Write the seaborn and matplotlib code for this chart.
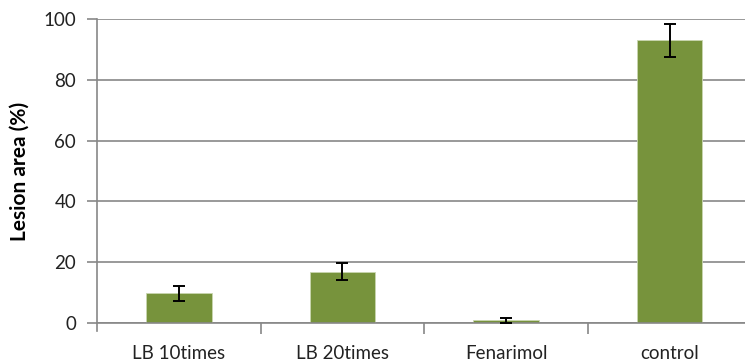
import matplotlib
matplotlib.use("Agg")
import matplotlib.pyplot as plt
import seaborn as sns
import pandas as pd
import numpy as np

categories = ["LB 10times", "LB 20times", "Fenarimol", "control"]
lesion_area = [9.8, 16.8, 0.9, 93.0]
lesion_err = [2.5, 2.8, 0.8, 5.5]
y_ticks = [0, 20, 40, 60, 80, 100]

sns.set_theme(style="white")
plt.rcParams["font.family"] = ["Lato", "DejaVu Sans"]

df = pd.DataFrame({"group": categories, "area": lesion_area})

fig = plt.figure(figsize=(7.45, 3.62), dpi=100)
ax = fig.add_axes([97 / 745, 1 - 323 / 362, 1 - 97 / 745, (323 - 19) / 362])

grid_col = "#878787"
bar_col = "#77933C"

sns.barplot(data=df, x="group", y="area", color=bar_col, width=0.4,
            edgecolor="#C9D6B0", linewidth=0.6, saturation=1, errorbar=None, ax=ax)
ax.errorbar(np.arange(len(categories)), lesion_area, yerr=lesion_err,
            fmt="none", ecolor="black", elinewidth=1.4, capsize=4.5, capthick=1.4, zorder=5)

ax.set_ylim(0, 100)
ax.set_xlim(-0.5, 3.46)
ax.set_yticks(y_ticks)
ax.yaxis.grid(True, color=grid_col, linewidth=1.2)
ax.set_axisbelow(True)

for side in ["top", "right"]:
    ax.spines[side].set_visible(False)
ax.spines["left"].set_color(grid_col)
ax.spines["left"].set_linewidth(1.2)
ax.spines["left"].set_bounds(-2.7, 100)
ax.spines["bottom"].set_color(grid_col)
ax.spines["bottom"].set_linewidth(1.2)

ax.tick_params(axis="y", which="major", length=7, width=1.2, color=grid_col,
               direction="out", left=True, labelsize=13.5, pad=8, labelcolor="#222222")
ax.tick_params(axis="x", which="major", length=0, labelsize=13.5, pad=16, labelcolor="#222222")
ax.set_xticks([0.5, 1.5, 2.5], minor=True)
ax.tick_params(axis="x", which="minor", length=8, width=1.2, color=grid_col,
               direction="out", bottom=True)

ax.set_xlabel("")
ax.set_ylabel("Lesion area (%)", fontsize=15, fontweight="bold", labelpad=10, color="black")

fig.savefig("out.png", dpi=100)
